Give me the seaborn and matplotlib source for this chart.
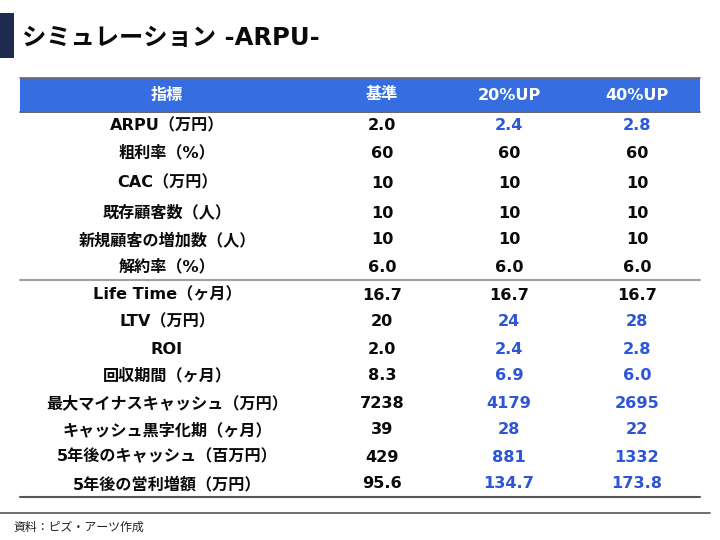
import matplotlib
matplotlib.use("Agg")
import matplotlib.pyplot as plt
import seaborn as sns
import pandas as pd

sns.set_theme(style="white")
plt.rcParams['font.family'] = ['DejaVu Sans', 'Noto Sans CJK JP']

title = "シミュレーション -ARPU-"
headers = ["指標", "基準", "20%UP", "40%UP"]
labels = ["ARPU（万円）", "粗利率（%）", "CAC（万円）", "既存顧客数（人）",
          "新規顧客の増加数（人）", "解約率（%）", "Life Time（ヶ月）", "LTV（万円）",
          "ROI", "回収期間（ヶ月）", "最大マイナスキャッシュ（万円）",
          "キャッシュ黒字化期（ヶ月）", "5年後のキャッシュ（百万円）", "5年後の営利増額（万円）"]
base = ["2.0", "60", "10", "10", "10", "6.0", "16.7", "20", "2.0", "8.3", "7238", "39", "429", "95.6"]
up20 = ["2.4", "60", "10", "10", "10", "6.0", "16.7", "24", "2.4", "6.9", "4179", "28", "881", "134.7"]
up40 = ["2.8", "60", "10", "10", "10", "6.0", "16.7", "28", "2.8", "6.0", "2695", "22", "1332", "173.8"]
source = "資料：ピズ・アーツ作成"

df = pd.DataFrame({"指標": labels, "基準": base, "20%UP": up20, "40%UP": up40})

# layout
col_x = [167, 382, 509, 637]
row_y = [126, 153, 183, 213, 240, 267, 295, 322, 349, 376, 403, 430, 457, 484]
BLUE_HDR = "#366de0"
BLUE_TXT = "#2c55d8"
NAVY = "#1c2b4f"
FS = 11.6

fig = plt.figure(figsize=(7.2, 5.4), dpi=100)
ax = fig.add_axes([0, 0, 1, 1])
ax.set_xlim(0, 720)
ax.set_ylim(540, 0)
ax.axis("off")

# left navy tab
ax.add_patch(plt.Rectangle((0, 13), 14, 45, color=NAVY, lw=0))
ax.text(22, 38, title, fontsize=17.5, fontweight="bold", color="#0a0a0a",
        va="center", ha="left")

# header bar
ax.add_patch(plt.Rectangle((20, 78), 680, 33, color=BLUE_HDR, lw=0))
ax.plot([20, 700], [77.5, 77.5], color="#6a6a6a", lw=1.2)
ax.plot([20, 700], [111.5, 111.5], color="#4a4a4a", lw=1.2)
for x, h in zip(col_x, headers):
    ax.text(x, 95, h, fontsize=FS, fontweight="bold", color="white",
            ha="center", va="center")

cols = ["基準", "20%UP", "40%UP"]
for i, y in enumerate(row_y):
    ax.text(col_x[0], y, df["指標"][i], fontsize=FS, fontweight="bold",
            color="#0a0a0a", ha="center", va="center")
    for j, c in enumerate(cols):
        v = df[c][i]
        color = BLUE_TXT if (j > 0 and v != df["基準"][i]) else "#0a0a0a"
        ax.text(col_x[j + 1], y, v, fontsize=FS, fontweight="bold",
                color=color, ha="center", va="center")

# separator lines
ax.plot([20, 700], [279.5, 279.5], color="#a0a0a0", lw=1.5)
ax.plot([20, 700], [497, 497], color="#555555", lw=1.5)
ax.plot([0, 710], [513, 513], color="#555555", lw=1.2)

ax.text(13, 527, source, fontsize=8.6, color="#222222", ha="left", va="center")

fig.savefig("out.png", dpi=100)
